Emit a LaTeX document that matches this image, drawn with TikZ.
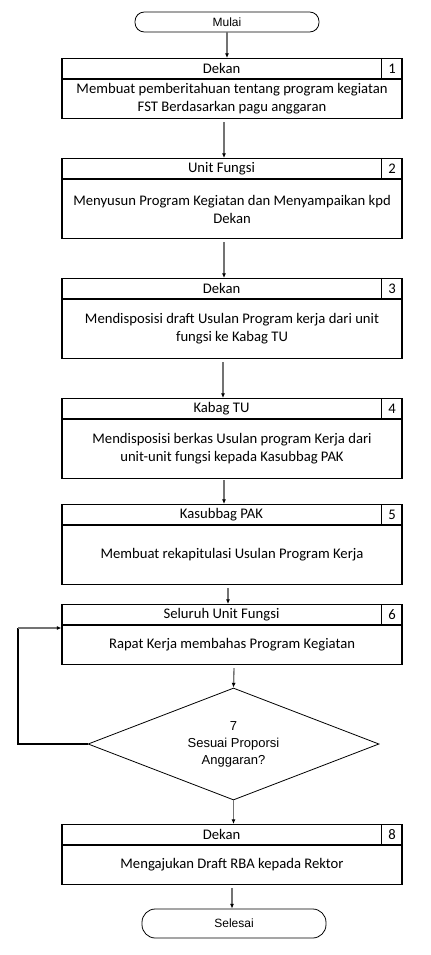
\documentclass[tikz,border=0pt]{standalone}
\usepackage{fontspec}
\setmainfont{Carlito}
\newfontfamily\termfont{Liberation Sans}
\usetikzlibrary{calc,arrows.meta,shapes.geometric}
\tikzset{
  stepframe/.style={draw, line width=0.8pt, minimum width=255pt, inner sep=0pt},
  sepline/.style={line width=0.8pt},
  unitlabel/.style={font=\fontsize{11}{13.4}\selectfont, inner sep=0pt},
  numlabel/.style={font=\fontsize{11}{13.4}\selectfont, inner sep=0pt},
  bodytext/.style={font=\fontsize{11}{13.4}\selectfont, align=center, inner sep=0pt},
  terminal/.style={draw, line width=0.6pt, rounded corners=7pt, minimum width=138pt,
    inner sep=0pt, font=\termfont\fontsize{9}{11}\selectfont},
  decision/.style={draw, diamond, aspect=2.6, line width=0.6pt, minimum width=218.25pt,
    minimum height=84pt, inner sep=0pt, align=center,
    font=\termfont\fontsize{9.75}{12.75}\selectfont},
  flow/.style={draw=black!55, line width=1pt, -{Latex[length=3.5pt,width=3pt,color=black]}},
  loopline/.style={line width=1.6pt}
}
\newcommand{\StepBox}[6]{%
  % #1 name, #2 top y (px), #3 height (px), #4 unit, #5 number, #6 body text
  \node[stepframe, minimum height=#3*0.75pt, anchor=north] (#1) at (232,#2) {};
  % header line and number cell
  \draw[sepline] ([yshift=-15.75pt]#1.north west) -- ([yshift=-15.75pt]#1.north east);
  \draw[sepline] ([xshift=-15.75pt]#1.north east) -- ([xshift=-15.75pt,yshift=-15.75pt]#1.north east);
  % texts
  \node[unitlabel] (#1-unit) at ($(#1.north west)!0.5!([xshift=-15.75pt,yshift=-15.75pt]#1.north east)$) {#4};
  \node[numlabel] (#1-num) at ([xshift=-7.9pt,yshift=-7.9pt]#1.north east) {#5};
  \node[bodytext] (#1-text) at ($([yshift=-15.75pt]#1.north)!0.5!(#1.south)$) {#6};
}

\begin{document}
\begin{tikzpicture}[x=0.75pt, y=-0.75pt]
  \useasboundingbox (0,0) rectangle (431,955);

  % =======================
  % Start and steps
  % =======================
  \node[terminal, minimum height=15pt] (start) at (227,22) {Mulai};

  \StepBox{step1}{58}{60}{Dekan}{1}{Membuat pemberitahuan tentang program kegiatan\\FST Berdasarkan pagu anggaran}
  \StepBox{step2}{158}{80}{Unit Fungsi}{2}{Menyusun Program Kegiatan dan Menyampaikan kpd\\Dekan}
  \StepBox{step3}{278}{80}{Dekan}{3}{Mendisposisi draft Usulan Program kerja dari unit\\fungsi ke Kabag TU}
  \StepBox{step4}{398}{80}{Kabag TU}{4}{Mendisposisi berkas Usulan program Kerja dari\\unit-unit fungsi kepada Kasubbag PAK}
  \StepBox{step5}{504}{80}{Kasubbag PAK}{5}{Membuat rekapitulasi Usulan Program Kerja}
  \StepBox{step6}{604}{60}{Seluruh Unit Fungsi}{6}{Rapat Kerja membahas Program Kegiatan}

  % =======================
  % Decision and end
  % =======================
  \node[decision] (check) at (233.5,744) {7\\Sesuai Proporsi\\Anggaran?};

  \StepBox{step8}{824}{60}{Dekan}{8}{Mengajukan Draft RBA kepada Rektor}

  \node[terminal, minimum height=21.75pt, rounded corners=10pt] (finish) at (234,923.5) {Selesai};

  % =======================
  % Connectors
  % =======================
  \draw[flow] (start.south) -- (start.south |- step1.north);
  \draw[flow] ([xshift=-6pt,yshift=-2.25pt]step1.south) -- ([xshift=-6pt]step2.north);
  \draw[flow] ([xshift=-6pt,yshift=-2.25pt]step2.south) -- ([xshift=-6pt]step3.north);
  \draw[flow] ([xshift=-6.75pt,yshift=-2.25pt]step3.south) -- ([xshift=-6.75pt]step4.north);
  \draw[flow] ([xshift=-6pt,yshift=-0.75pt]step4.south) -- ([xshift=-6pt]step5.north);
  \draw[flow] ([xshift=-3pt,yshift=-2.25pt]step5.south) -- ([xshift=-3pt]step6.north);
  \draw[flow] ([xshift=1.5pt,yshift=-2.25pt]step6.south) -- (check.north);
  \draw[flow] (check.south) -- (check.south |- step8.north);
  \draw[flow] ([yshift=-2.25pt]step8.south) -- (step8.south |- finish.north);

  % loop back when not matching
  \coordinate (loopcorner) at (18,628);
  \draw[loopline] (check.west) -| (loopcorner);
  \draw[flow] (loopcorner) -- (loopcorner -| step6.west);

\end{tikzpicture}
\end{document}
